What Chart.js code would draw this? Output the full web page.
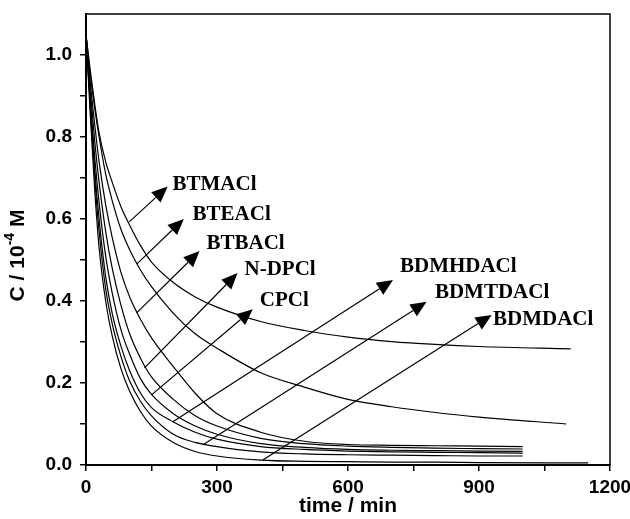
<!DOCTYPE html>
<html>
<head>
<meta charset="utf-8">
<script src="https://cdn.jsdelivr.net/npm/chart.js@4/dist/chart.umd.min.js"></script>
<style>
  html, body { margin: 0; padding: 0; background: #fff; }
  #wrap { width: 630px; height: 519px; }
</style>
</head>
<body>
<div id="wrap"><canvas id="decay"></canvas></div>
<script>
// sampling times (min); the last entry of each series sits at its own end time
const times = [0, 10, 20, 30, 45, 60, 80, 100, 125, 150, 200, 250, 300, 400, 500, 600, 700, 800, 900];
const names = ["BTMACl", "BTEACl", "BTBACl", "N-DPCl", "CPCl", "BDMHDACl", "BDMTDACl", "BDMDACl"];
const endTimes = [1110, 1100, 1000, 1000, 1000, 1000, 1000, 1150];

// concentration, C / 10^-4 M
const BTMACl   = [1.05, 0.96, 0.88, 0.81, 0.74, 0.69, 0.63, 0.585, 0.535, 0.495, 0.445, 0.41, 0.385, 0.35, 0.328, 0.312, 0.301, 0.294, 0.289, 0.283];
const BTEACl   = [1.05, 0.95, 0.87, 0.80, 0.71, 0.645, 0.575, 0.525, 0.475, 0.435, 0.37, 0.32, 0.285, 0.225, 0.19, 0.16, 0.142, 0.128, 0.117, 0.10];
const BTBACl   = [1.05, 0.93, 0.83, 0.74, 0.635, 0.555, 0.47, 0.41, 0.355, 0.31, 0.24, 0.175, 0.125, 0.08, 0.058, 0.05, 0.048, 0.047, 0.046, 0.045];
const NDPCl    = [1.05, 0.91, 0.79, 0.69, 0.57, 0.48, 0.39, 0.32, 0.26, 0.215, 0.16, 0.12, 0.095, 0.065, 0.052, 0.046, 0.043, 0.041, 0.04, 0.039];
const CPCl     = [1.05, 0.89, 0.75, 0.64, 0.51, 0.42, 0.33, 0.27, 0.21, 0.172, 0.125, 0.095, 0.075, 0.052, 0.043, 0.038, 0.036, 0.035, 0.034, 0.033];
const BDMHDACl = [1.05, 0.88, 0.72, 0.60, 0.46, 0.37, 0.29, 0.23, 0.175, 0.14, 0.105, 0.08, 0.063, 0.045, 0.038, 0.034, 0.032, 0.031, 0.03, 0.029];
const BDMTDACl = [1.05, 0.87, 0.70, 0.57, 0.43, 0.345, 0.265, 0.205, 0.155, 0.12, 0.075, 0.055, 0.045, 0.032, 0.027, 0.025, 0.024, 0.023, 0.022, 0.022];
const BDMDACl  = [1.05, 0.85, 0.67, 0.53, 0.40, 0.315, 0.235, 0.18, 0.13, 0.095, 0.055, 0.033, 0.022, 0.012, 0.009, 0.008, 0.007, 0.007, 0.006, 0.005];
const allSeries = [BTMACl, BTEACl, BTBACl, NDPCl, CPCl, BDMHDACl, BDMTDACl, BDMDACl];

const xTicks = [0, 300, 600, 900, 1200];
const yTicks = [0.0, 0.2, 0.4, 0.6, 0.8, 1.0];

// arrow callouts in data units: [tail t, tail C, tip t, tip C, label t, label C]
const callouts = [
  [99, 0.593, 187, 0.679, 198, 0.683],
  [116, 0.490, 224, 0.600, 244, 0.610],
  [116, 0.371, 260, 0.522, 276, 0.541],
  [134, 0.237, 347, 0.468, 363, 0.476],
  [150, 0.171, 382, 0.380, 398, 0.402],
  [198, 0.105, 703, 0.451, 719, 0.483],
  [267, 0.049, 780, 0.398, 799, 0.420],
  [405, 0.012, 929, 0.366, 932, 0.354],
];

const datasets = allSeries.map((vals, i) => ({
  label: names[i],
  data: vals.map((v, j) => ({ x: j < times.length ? times[j] : endTimes[i], y: v })),
  borderColor: "#000",
  borderWidth: 1.2,
  pointRadius: 0,
  fill: false,
  cubicInterpolationMode: "monotone",
}));

const calloutPlugin = {
  id: "callouts",
  afterDatasetsDraw(chart) {
    const { ctx, scales: { x, y } } = chart;
    ctx.save();
    ctx.strokeStyle = "#000";
    ctx.fillStyle = "#000";
    ctx.lineWidth = 1.2;
    callouts.forEach((c, i) => {
      const x0 = x.getPixelForValue(c[0]), y0 = y.getPixelForValue(c[1]);
      const x1 = x.getPixelForValue(c[2]), y1 = y.getPixelForValue(c[3]);
      const ang = Math.atan2(y1 - y0, x1 - x0);
      const len = 16, half = 7;
      const bx = x1 - len * Math.cos(ang), by = y1 - len * Math.sin(ang);
      ctx.beginPath();
      ctx.moveTo(x0, y0);
      ctx.lineTo(bx, by);
      ctx.stroke();
      ctx.beginPath();
      ctx.moveTo(x1, y1);
      ctx.lineTo(bx + half * Math.sin(ang), by - half * Math.cos(ang));
      ctx.lineTo(bx - half * Math.sin(ang), by + half * Math.cos(ang));
      ctx.closePath();
      ctx.fill();
      ctx.font = "bold 21px 'Liberation Serif', 'Times New Roman', serif";
      ctx.textAlign = "left";
      ctx.textBaseline = "middle";
      ctx.fillText(names[i], x.getPixelForValue(c[4]), y.getPixelForValue(c[5]));
    });
    ctx.restore();
  },
  afterDraw(chart) {
    const { ctx, chartArea: a } = chart;
    ctx.save();
    // top and right frame
    ctx.strokeStyle = "#000";
    ctx.lineWidth = 1.5;
    ctx.beginPath();
    ctx.moveTo(a.left, a.top);
    ctx.lineTo(a.right, a.top);
    ctx.lineTo(a.right, a.bottom);
    ctx.stroke();
    // y axis title with superscript
    const big = "bold 21px 'Liberation Sans', Arial, sans-serif";
    const small = "bold 14px 'Liberation Sans', Arial, sans-serif";
    const p1 = "C / 10", p2 = "-4", p3 = " M";
    ctx.font = big;
    const w1 = ctx.measureText(p1).width, w3 = ctx.measureText(p3).width;
    ctx.font = small;
    const w2 = ctx.measureText(p2).width;
    const total = w1 + w2 + w3;
    ctx.translate(18, (a.top + a.bottom) / 2 + 16);
    ctx.rotate(-Math.PI / 2);
    ctx.fillStyle = "#000";
    ctx.textBaseline = "middle";
    ctx.textAlign = "left";
    let px = -total / 2;
    ctx.font = big;
    ctx.fillText(p1, px, 0);
    px += w1;
    ctx.font = small;
    ctx.fillText(p2, px, -8);
    px += w2;
    ctx.font = big;
    ctx.fillText(p3, px, 0);
    ctx.restore();
  },
};

const tickFont = { family: "'Liberation Sans', Arial, sans-serif", weight: "bold", size: 19 };

new Chart(document.getElementById("decay"), {
  type: "line",
  data: { datasets },
  options: {
    responsive: true,
    maintainAspectRatio: false,
    animation: false,
    events: [],
    layout: { padding: { top: 14, right: 20, left: 0, bottom: 0 } },
    plugins: { legend: { display: false }, tooltip: { enabled: false } },
    scales: {
      x: {
        type: "linear",
        min: 0,
        max: 1200,
        afterFit: (s) => { s.height = 54; s.paddingRight = 0; s.paddingLeft = 0; },
        border: { display: true, color: "#000", width: 2 },
        grid: { drawOnChartArea: false, drawTicks: true, tickLength: 6, color: "#000", lineWidth: 1.5 },
        ticks: {
          stepSize: 150,
          autoSkip: false,
          maxRotation: 0,
          padding: 5,
          color: "#000",
          font: tickFont,
          callback: (v) => (xTicks.includes(v) ? String(v) : ""),
        },
        title: {
          display: true,
          text: "time / min",
          color: "#000",
          font: { family: "'Liberation Sans', Arial, sans-serif", weight: "bold", size: 21 },
          padding: { top: 0, bottom: 0 },
        },
      },
      y: {
        min: 0,
        max: 1.1,
        afterFit: (s) => { s.width = 86; s.paddingTop = 0; s.paddingBottom = 0; },
        border: { display: true, color: "#000", width: 2 },
        grid: {
          drawOnChartArea: false,
          drawTicks: true,
          tickLength: 6,
          lineWidth: 1.5,
          color: (c) => (c.tick && c.tick.value > 1.05 ? "rgba(0,0,0,0)" : "#000"),
        },
        ticks: {
          stepSize: 0.1,
          autoSkip: false,
          padding: 8,
          color: "#000",
          font: tickFont,
          callback: (v) => {
            const r = Math.round(v * 10) / 10;
            return yTicks.some((t) => Math.abs(t - r) < 1e-9) ? r.toFixed(1) : "";
          },
        },
      },
    },
  },
  plugins: [calloutPlugin],
});
</script>
</body>
</html>
